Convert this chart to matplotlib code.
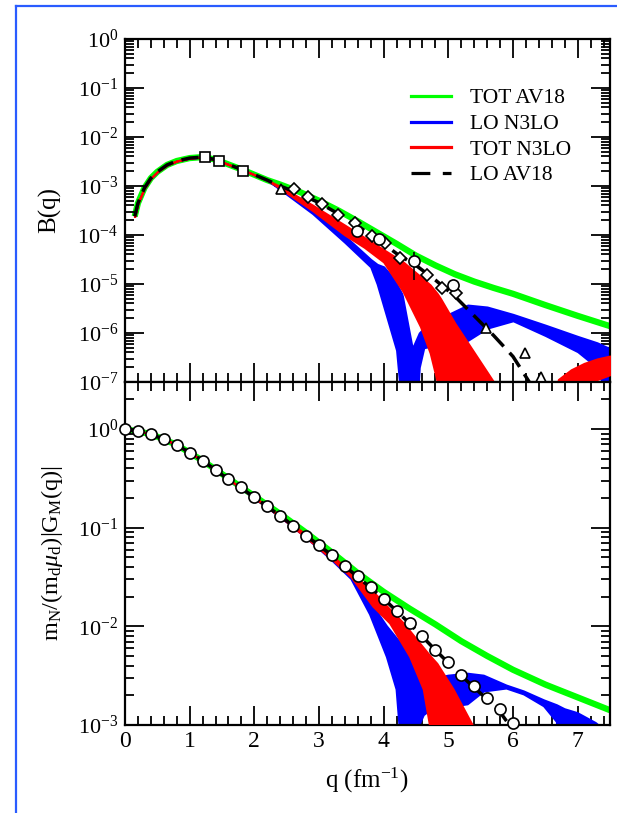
import numpy as np
import matplotlib
matplotlib.use("Agg")
import matplotlib.pyplot as plt
from matplotlib.lines import Line2D
from matplotlib.ticker import LogLocator, MultipleLocator, NullFormatter

plt.rcParams['font.family'] = 'Liberation Serif'
plt.rcParams['mathtext.fontset'] = 'custom'
plt.rcParams['mathtext.rm'] = 'Liberation Serif'
plt.rcParams['mathtext.it'] = 'Liberation Serif:italic'
plt.rcParams['mathtext.bf'] = 'Liberation Serif:bold'

GREEN = '#00ff00'
BLUE = '#0000ff'
RED = '#ff0000'

# ---------------- upper panel: B(q), values as log10 ----------------
b_low_q = [0.15, 0.2, 0.3, 0.4, 0.5, 0.65, 0.8, 1.0, 1.2, 1.4, 1.6, 1.8, 2.0, 2.2]
b_low = [-3.62, -3.35, -3.04, -2.84, -2.71, -2.57, -2.49, -2.43, -2.41, -2.46, -2.56, -2.66, -2.77, -2.88]

b_av18_tot_q = [2.4, 2.7, 3.0, 3.3, 3.6, 3.9, 4.2, 4.5, 4.8, 5.1, 5.4, 5.7, 6.0, 6.5, 7.0, 7.5]
b_av18_tot = [-2.97, -3.12, -3.30, -3.50, -3.72, -3.95, -4.18, -4.42, -4.62, -4.80, -4.95, -5.08, -5.2, -5.43, -5.65, -5.86]

b_av18_lo_q = [2.4, 2.7, 3.0, 3.3, 3.6, 3.9, 4.2, 4.5, 4.8, 5.1, 5.4, 5.7, 6.0, 6.3]
b_av18_lo = [-3.0, -3.16, -3.34, -3.57, -3.82, -4.08, -4.38, -4.62, -4.92, -5.25, -5.65, -6.05, -6.48, -7.1]

# LO N3LO band (blue)
b_n3lo_lo_q = [2.4, 2.9, 3.4, 3.8, 3.9, 4.0, 4.1, 4.2, 4.28, 4.29, 4.44, 4.45, 4.55, 4.62,
               4.8, 5.0, 5.3, 5.6, 6.0, 6.5, 7.0, 7.3, 7.5]
b_n3lo_lo_min = [-3.07, -3.56, -4.15, -4.65, -5.0, -5.45, -5.9, -6.35, -7.5, -9, -9, -9, -6.7, -6.3,
                 -6.25, -6.22, -6.15, -5.9, -5.75, -6.05, -6.38, -6.7, -7.5]
b_n3lo_lo_max = [-3.05, -3.5, -4.02, -4.5, -4.6, -4.65, -4.8, -5.0, -5.2, -5.25, -6.3, -6.3, -6.0, -5.9,
                 -5.75, -5.62, -5.43, -5.47, -5.62, -5.84, -6.07, -6.2, -6.32]

# TOT N3LO band (red), first and second lobe
b_n3lo_tot_q = [2.4, 2.9, 3.4, 3.7, 4.0, 4.3, 4.57, 4.72, 4.83, 4.88, 5.1, 5.4, 5.7, 5.85]
b_n3lo_tot_min = [-3.05, -3.5, -4.0, -4.25, -4.55, -5.15, -5.87, -6.41, -7.0, -9, -9, -9, -9, -9]
b_n3lo_tot_max = [-3.01, -3.39, -3.8, -4.05, -4.3, -4.55, -4.85, -5.02, -5.2, -5.3, -5.8, -6.4, -7.0, -8.0]

b_n3lo_tot2_q = [6.55, 6.7, 6.9, 7.1, 7.3, 7.5]
b_n3lo_tot2_min = [-9, -9, -9, -7.2, -6.95, -6.85]
b_n3lo_tot2_max = [-9, -6.95, -6.75, -6.62, -6.53, -6.47]

# experimental points (log10 B)
sq_q = [1.24, 1.46, 1.82]
sq_b = [-2.40, -2.50, -2.69]
tri_q = [2.42, 5.58, 6.19, 6.44]
tri_b = [-3.07, -5.90, -6.41, -6.90]
dia_q = [2.61, 2.83, 3.04, 3.30, 3.55, 3.82, 4.02, 4.26, 4.67, 4.90, 5.12]
dia_b = [-3.07, -3.23, -3.37, -3.59, -3.75, -4.03, -4.17, -4.46, -4.82, -5.09, -5.19]
circ_q = [3.59, 3.93, 4.47, 5.07]
circ_b = [-3.91, -4.08, -4.54, -5.02]
circ_err_lo = [-3.95, -4.12, -4.92, -5.1]
circ_err_hi = [-3.87, -4.04, -4.34, -4.94]

# ---------------- lower panel: m_N/(m_d mu_d)|G_M(q)| ----------------
g_av18_tot_q = [0, 0.4, 0.8, 1.2, 1.6, 2.0, 2.4, 2.8, 3.2, 3.6, 4.0, 4.4, 4.8, 5.2, 5.6, 6.0, 6.5, 7.0, 7.5]
g_av18_tot = [0, -0.05, -0.16, -0.32, -0.5, -0.68, -0.86, -1.05, -1.25, -1.46, -1.65, -1.82, -1.98,
              -2.15, -2.3, -2.44, -2.59, -2.72, -2.85]

g_av18_lo_q = [0, 0.4, 0.8, 1.2, 1.6, 2.0, 2.4, 2.8, 3.2, 3.6, 4.0, 4.4, 4.8, 5.2, 5.6, 5.8, 6.0]
g_av18_lo = [0, -0.05, -0.16, -0.32, -0.51, -0.69, -0.88, -1.08, -1.28, -1.5, -1.72, -1.97, -2.24,
             -2.5, -2.74, -2.87, -3.05]

g_n3lo_lo_q = [0, 0.4, 0.8, 1.2, 1.6, 2.0, 2.4, 2.8, 3.2, 3.5, 3.79, 4.05, 4.2, 4.28, 4.29, 4.41, 4.52,
               4.53, 4.56, 4.62, 4.7, 4.8, 5.0, 5.3, 5.55, 5.9, 6.17, 6.48, 6.68, 6.8, 7.0, 7.28, 7.5]
g_n3lo_lo_min = [0, -0.05, -0.16, -0.32, -0.51, -0.70, -0.89, -1.10, -1.33, -1.52, -1.88, -2.31, -2.64,
                 -3.3, -9, -9, -9, -9, -2.99, -2.9, -2.86, -2.84, -2.82, -2.79, -2.66, -2.63, -2.69,
                 -2.81, -2.97, -9, -3.6, -3.3, -3.2]
g_n3lo_lo_max = [0, -0.05, -0.16, -0.32, -0.51, -0.70, -0.89, -1.09, -1.31, -1.49, -1.75, -2.0, -2.12,
                 -2.18, -2.2, -2.3, -2.5, -2.52, -2.53, -2.54, -2.55, -2.53, -2.5, -2.48, -2.5, -2.6,
                 -2.66, -2.75, -2.8, -2.84, -2.88, -2.98, -3.1]

g_n3lo_tot_q = [0, 0.4, 0.8, 1.2, 1.6, 2.0, 2.4, 2.8, 3.2, 3.5, 3.84, 4.1, 4.31, 4.41, 4.62, 4.72, 4.83,
                5.08, 5.39, 5.5]
g_n3lo_tot_min = [0, -0.05, -0.16, -0.32, -0.51, -0.70, -0.89, -1.10, -1.32, -1.5, -1.8, -1.97, -2.2,
                  -2.31, -2.64, -3.02, -9, -9, -9, -9]
g_n3lo_tot_max = [0, -0.05, -0.16, -0.32, -0.51, -0.69, -0.88, -1.07, -1.28, -1.46, -1.65, -1.83, -1.97,
                  -2.05, -2.22, -2.3, -2.38, -2.64, -3.02, -3.2]

gm_q = [0.0, 0.2, 0.4, 0.6, 0.8, 1.0, 1.2, 1.4, 1.6, 1.8, 2.0, 2.2, 2.4, 2.6, 2.8, 3.0, 3.2, 3.4, 3.6,
        3.8, 4.0, 4.2, 4.4, 4.6, 4.8, 5.0, 5.2, 5.4, 5.6, 5.8, 6.0]
gm_data = [0.0, -0.02, -0.05, -0.10, -0.16, -0.24, -0.32, -0.41, -0.51, -0.59, -0.69, -0.78, -0.88, -0.98,
           -1.08, -1.18, -1.28, -1.39, -1.49, -1.60, -1.72, -1.84, -1.97, -2.10, -2.24, -2.36, -2.49,
           -2.60, -2.73, -2.84, -2.98]


def p10(v):
    return 10.0 ** np.array(v)


def band(ax, q, lo, hi, color, z):
    ax.fill_between(q, p10(lo), p10(hi), facecolor=color, edgecolor=color, lw=1.5, zorder=z)


def style_axis(ax):
    ax.set_yscale('log')
    ax.set_xlim(0, 7.5)
    ax.xaxis.set_major_locator(MultipleLocator(1))
    ax.xaxis.set_minor_locator(MultipleLocator(0.2))
    ax.yaxis.set_major_locator(LogLocator(base=10, numticks=20))
    ax.yaxis.set_minor_locator(LogLocator(base=10, subs=np.arange(2, 10), numticks=20))
    ax.yaxis.set_minor_formatter(NullFormatter())
    ax.tick_params(which='both', direction='in', top=True, right=True, width=1.3)
    ax.tick_params(which='major', length=14, labelsize=16, pad=5)
    ax.tick_params(which='minor', length=6.5)
    ax.tick_params(axis='x', which='major', labelsize=17, pad=4)
    for s in ax.spines.values():
        s.set_linewidth(1.6)


fig = plt.figure(figsize=(6.17, 8.13), dpi=100)
ax1 = fig.add_axes([125 / 617, 1 - 382 / 813, 485 / 617, 343 / 813])
ax2 = fig.add_axes([125 / 617, 1 - 725 / 813, 485 / 617, 343 / 813])

mk = dict(mfc='white', mec='black', mew=1.2, ls='none', zorder=6)

# upper panel
style_axis(ax1)
ax1.set_ylim(1e-7, 1)
ax1.tick_params(labelbottom=False)

ax1.plot(b_low_q + b_av18_tot_q, p10(b_low + b_av18_tot), color=GREEN, lw=4.5, zorder=1,
         solid_capstyle='butt')
band(ax1, b_low_q + b_n3lo_lo_q, b_low + b_n3lo_lo_min, b_low + b_n3lo_lo_max, BLUE, 2)
band(ax1, b_low_q + b_n3lo_tot_q, b_low + b_n3lo_tot_min, b_low + b_n3lo_tot_max, RED, 3)
band(ax1, b_n3lo_tot2_q, b_n3lo_tot2_min, b_n3lo_tot2_max, RED, 3)
ax1.plot(b_low_q + b_av18_lo_q, p10(b_low + b_av18_lo), color='black', lw=2.5,
         ls=(0, (5, 2.5)), zorder=4)

ax1.vlines(circ_q, p10(circ_err_lo), p10(circ_err_hi), color='black', lw=1.2, zorder=5)
ax1.plot(sq_q, p10(sq_b), marker='s', ms=6.5, **mk)
ax1.plot(tri_q, p10(tri_b), marker='^', ms=7.5, **mk)
ax1.plot(dia_q, p10(dia_b), marker='D', ms=6, **mk)
ax1.plot(circ_q, p10(circ_b), marker='o', ms=8, **mk)

handles = [Line2D([], [], color=GREEN, lw=2.3),
           Line2D([], [], color=BLUE, lw=2.3),
           Line2D([], [], color=RED, lw=2.3),
           Line2D([], [], color='black', lw=2.3, ls=(0, (5.9, 3.9)))]
labels = ['TOT AV18', 'LO N3LO', 'TOT N3LO', 'LO AV18']
ax1.legend(handles, labels, loc='upper left', bbox_to_anchor=(0.59, 0.856), frameon=False,
           fontsize=15.5, handlelength=1.85, handletextpad=0.9, labelspacing=0.26,
           borderpad=0, borderaxespad=0)

# lower panel
style_axis(ax2)
ax2.set_ylim(1e-3, 3)

ax2.plot(g_av18_tot_q, p10(g_av18_tot), color=GREEN, lw=4.5, zorder=1, solid_capstyle='butt')
band(ax2, g_n3lo_lo_q, g_n3lo_lo_min, g_n3lo_lo_max, BLUE, 2)
band(ax2, g_n3lo_tot_q, g_n3lo_tot_min, g_n3lo_tot_max, RED, 3)
ax2.plot(g_av18_lo_q, p10(g_av18_lo), color='black', lw=2.5, ls=(0, (5, 2.5)), zorder=4)
ax2.plot(gm_q, p10(gm_data), marker='o', ms=8, clip_on=False, **mk)

# labels
fig.text(50 / 617, 1 - 210 / 813, 'B(q)', rotation=90, ha='center', va='center', fontsize=18)
fig.text(52 / 617, 1 - 553 / 813, r'm$_\mathrm{N}$/(m$_\mathrm{d}$$\mu_\mathrm{d}$)|G$_\mathrm{M}$(q)|',
         rotation=90, ha='center', va='center', fontsize=17.5)
fig.text(367 / 617, 1 - 780 / 813, r'q (fm$^{-1}$)', ha='center', va='center', fontsize=18)

# blue page frame
fig.add_artist(Line2D([15.5 / 617, 15.5 / 617], [0, 1 - 6 / 813], color='#2a5cff', lw=1.6,
                      transform=fig.transFigure))
fig.add_artist(Line2D([15.5 / 617, 1], [1 - 6 / 813, 1 - 6 / 813], color='#2a5cff', lw=1.6,
                      transform=fig.transFigure))

fig.savefig('out.png', dpi=100)
